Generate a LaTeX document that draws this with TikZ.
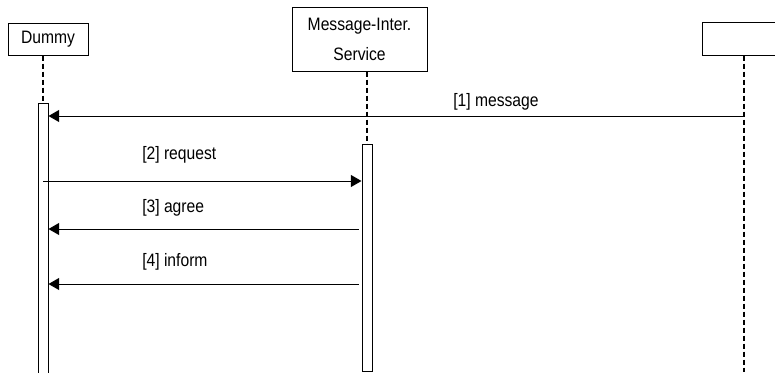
\documentclass[tikz,border=0pt]{standalone}
\usepackage{fontspec}
\setmainfont{Liberation Sans}[FakeStretch=0.87]
\usetikzlibrary{arrows.meta}

\begin{document}
\begin{tikzpicture}[x=0.75pt, y=-0.75pt,
obj/.style={draw, line width=0.75pt, fill=white, inner sep=0, font=\fontsize{13.5}{22.5}\selectfont},
act/.style={draw, line width=0.75pt, fill=white, minimum width=7.5pt, inner sep=0},
life/.style={line width=1.5pt, dash pattern=on 3.75pt off 2.25pt},
msg/.style={line width=0.75pt, -{Triangle[length=8pt, width=9pt]}},
lbl/.style={anchor=west, inner sep=0, font=\fontsize{13.5}{15}\selectfont}]
	\useasboundingbox (0,0) rectangle (775,372);

	% objects
	\node[obj, minimum width=60pt, minimum height=24pt] at (48,39) (dummy) {Dummy};
	\node[obj, minimum width=101.25pt, minimum height=48pt, align=center] at (359.5,39) (mis) {Message-Inter.\\Service};
	\node[obj, minimum width=75pt, minimum height=24.75pt] at (752,38.5) (other) {};

	% activation bars
	\node[act, minimum height=215.25pt] at (43,246.5) (dact) {};
	\node[act, minimum height=170.25pt] at (367,257.5) (mact) {};
	\coordinate (oend) at (744,372);

	% lifelines
	\draw[life] (dummy.south -| dact.north) -- (dact.north);
	\draw[life] (mis.south -| mact.north) -- (mact.north);
	\draw[life] (other.south -| oend) -- (oend);

	% messages
	\draw[msg] (oend |- 0,116) -- (dact.east |- 0,116);
	\node[lbl] at (453,102) (m1) {[1] message};
	\draw[msg] (dact.center |- 0,181) -- (mact.west |- 0,181);
	\node[lbl] at (142,155) (m2) {[2] request};
	\draw[msg] ([xshift=-2.25pt]mact.west |- 0,229) -- (dact.east |- 0,229);
	\node[lbl] at (142,208) (m3) {[3] agree};
	\draw[msg] ([xshift=-2.25pt]mact.west |- 0,284) -- (dact.east |- 0,284);
	\node[lbl] at (142,262) (m4) {[4] inform};
\end{tikzpicture}
\end{document}
